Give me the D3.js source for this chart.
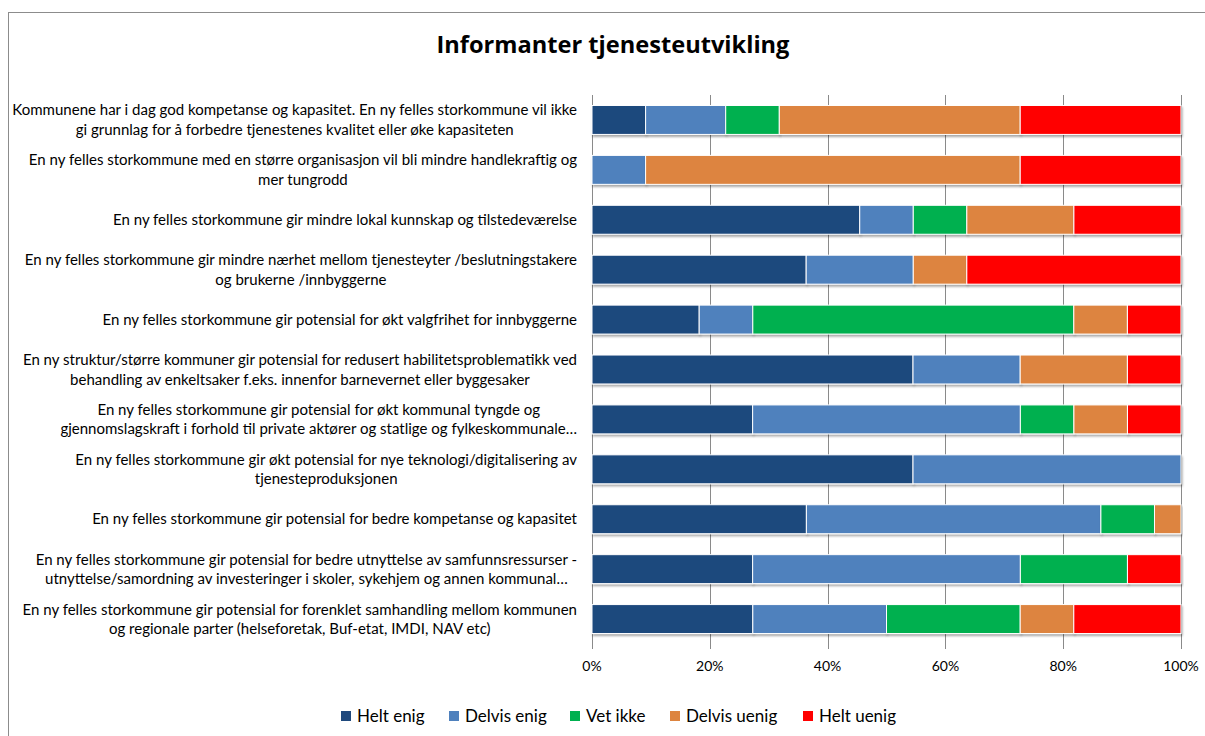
<!DOCTYPE html>
<html>
	<head>
		<meta charset="utf-8">
		<style type="text/css">
			body { margin: 0; background: #fff; }
			svg { display: block; }
			text { font-family: Lato, "Open Sans", sans-serif; fill: #000; }
		</style>
		<title>Informanter tjenesteutvikling</title>
	</head>
	<body>
		<script src="https://d3js.org/d3.v7.min.js"></script>
		<script>

/* data (percent of answers) */

var categories = [
	["Kommunene har i dag god kompetanse og kapasitet. En ny felles storkommune vil ikke", "gi grunnlag for å forbedre tjenestenes kvalitet eller øke kapasiteten"],
	["En ny felles storkommune med en større organisasjon vil bli mindre handlekraftig og", "mer tungrodd"],
	["En ny felles storkommune gir mindre lokal kunnskap og tilstedeværelse "],
	["En ny felles storkommune gir mindre nærhet mellom tjenesteyter /beslutningstakere", "og brukerne /innbyggerne"],
	["En ny felles storkommune gir potensial for økt valgfrihet for innbyggerne"],
	["En ny struktur/større kommuner gir potensial for redusert habilitetsproblematikk ved", "behandling av enkeltsaker f.eks. innenfor barnevernet eller byggesaker"],
	["En ny felles storkommune gir potensial for økt kommunal tyngde og", "gjennomslagskraft i forhold til private aktører og statlige og fylkeskommunale…"],
	["En ny felles storkommune gir økt potensial for nye teknologi/digitalisering av", "tjenesteproduksjonen"],
	["En ny felles storkommune gir potensial for bedre kompetanse og kapasitet"],
	["En ny felles storkommune gir potensial for bedre utnyttelse av samfunnsressurser -", "utnyttelse/samordning av investeringer i skoler, sykehjem og annen kommunal…"],
	["En ny felles storkommune gir potensial for forenklet samhandling mellom kommunen", "og regionale parter (helseforetak, Buf-etat, IMDI, NAV etc)"]
];

var seriesNames = ["Helt enig", "Delvis enig", "Vet ikke", "Delvis uenig", "Helt uenig"];
var seriesColors = ["#1F497D", "#4F81BD", "#00B050", "#DD843F", "#FF0000"];

var heltEnig    = [9.1, 0,    45.5, 36.4, 18.2, 54.5, 27.3, 54.5, 36.4, 27.3, 27.3];
var delvisEnig  = [13.6, 9.1, 9.1,  18.2, 9.1,  18.2, 45.5, 45.5, 50.0, 45.5, 22.7];
var vetIkke     = [9.1, 0,    9.1,  0,    54.5, 0,    9.1,  0,    9.1,  18.2, 22.7];
var delvisUenig = [40.9, 63.6, 18.2, 9.1, 9.1,  18.2, 9.1,  0,    4.5,  0,    9.1];
var heltUenig   = [27.3, 27.3, 18.2, 36.4, 9.1, 9.1,  9.1,  0,    0,    9.1,  18.2];

var xTicks = [0, 0.2, 0.4, 0.6, 0.8, 1];

var chartTitle = "Informanter tjenesteutvikling";

/* table for d3.stack */

var seriesValues = [heltEnig, delvisEnig, vetIkke, delvisUenig, heltUenig];
var table = categories.map(function(c, i) {
	var row = { idx: i };
	seriesNames.forEach(function(s, j) { row[s] = seriesValues[j][i]; });
	return row;
});

var stacked = d3.stack()
	.keys(seriesNames)
	.offset(d3.stackOffsetExpand)(table);

/* graph parameters */

var totalWidth = 1205;
var totalHeight = 736;
var plot = { left: 592, right: 1181, top: 95, bottom: 644 };

var scaleX = d3.scaleLinear()
	.domain([0, 1])
	.range([plot.left, plot.right]);

var scaleY = d3.scaleBand()
	.domain(d3.range(categories.length))
	.range([plot.top, plot.bottom])
	.paddingInner(0.42)
	.paddingOuter(0.21);

var svg = d3.select("body").append("svg")
	.attr("width", totalWidth)
	.attr("height", totalHeight);

var defs = svg.append("defs");
var shadow = defs.append("filter")
	.attr("id", "shadow")
	.attr("x", "-5%").attr("y", "-20%")
	.attr("width", "110%").attr("height", "160%");
shadow.append("feDropShadow")
	.attr("dx", 1).attr("dy", 2)
	.attr("stdDeviation", 1.2)
	.attr("flood-color", "#000")
	.attr("flood-opacity", 0.35);

/* outer frame */

svg.append("rect")
	.attr("x", 8.5)
	.attr("y", 12.5)
	.attr("width", 1200)
	.attr("height", 740)
	.style("fill", "#fff")
	.style("stroke", "#8c8c8c")
	.style("stroke-width", 1);

/* title */

var title = svg.append("text")
	.attr("x", 613)
	.attr("y", 53)
	.attr("text-anchor", "middle")
	.style("font-family", "'Open Sans', sans-serif")
	.style("font-weight", "bold")
	.style("font-size", "24px")
	.text(chartTitle);
fitWidth(title, 353, 24);

/* gridlines + ticks */

svg.append("g")
	.selectAll("line")
	.data(xTicks)
	.enter().append("line")
	.attr("x1", function(d) { return Math.round(scaleX(d)) + 0.5; })
	.attr("x2", function(d) { return Math.round(scaleX(d)) + 0.5; })
	.attr("y1", plot.top)
	.attr("y2", plot.bottom + 5)
	.style("stroke", "#8a8a8a")
	.style("stroke-width", 1);

svg.append("g")
	.selectAll("text")
	.data(xTicks)
	.enter().append("text")
	.attr("x", function(d) { return scaleX(d); })
	.attr("y", 671)
	.attr("text-anchor", "middle")
	.style("font-size", "14px")
	.text(d3.format(".0%"));

/* bars */

var layers = svg.append("g")
	.selectAll("g")
	.data(stacked)
	.enter().append("g")
	.style("fill", function(d, i) { return seriesColors[i]; });

layers.selectAll("rect")
	.data(function(d) { return d; })
	.enter().append("rect")
	.filter(function(d) { return d[1] - d[0] > 0; })
	.attr("x", function(d) { return scaleX(d[0]); })
	.attr("y", function(d) { return scaleY(d.data.idx); })
	.attr("width", function(d) { return scaleX(d[1]) - scaleX(d[0]); })
	.attr("height", scaleY.bandwidth())
	.attr("filter", "url(#shadow)")
	.style("stroke", "#fff")
	.style("stroke-width", 1);

/* category labels: block right-aligned, lines centred in the block */

var labelFont = 14;
var labelRight = 577;
var lineH = 19.5;

var probe = svg.append("text").style("font-size", labelFont + "px").text(categories[0][0]);
labelFont = labelFont * 565 / probe.node().getComputedTextLength();
probe.remove();

var labels = svg.append("g")
	.selectAll("text")
	.data(categories)
	.enter().append("text")
	.style("font-size", labelFont + "px")
	.attr("y", function(d, i) { return scaleY(i) + scaleY.bandwidth() / 2; });

labels.each(function(lines, i) {
	var t = d3.select(this);
	var spans = t.selectAll("tspan")
		.data(lines)
		.enter().append("tspan")
		.text(function(d) { return d; });
	var w = 0;
	spans.each(function() { w = Math.max(w, this.getComputedTextLength()); });
	var cx = labelRight - w / 2;
	var cy = scaleY(i) + scaleY.bandwidth() / 2;
	spans
		.attr("x", cx)
		.attr("text-anchor", "middle")
		.attr("y", function(d, k) { return cy + (k - (lines.length - 1) / 2) * lineH + labelFont * 0.35; });
});

/* legend */

var legendX = [341, 449, 570, 670, 803];

var legend = svg.append("g")
	.selectAll("g")
	.data(seriesNames)
	.enter().append("g")
	.attr("transform", function(d, i) { return "translate(" + legendX[i] + ",716)"; });

legend.append("rect")
	.attr("x", 0)
	.attr("y", -5)
	.attr("width", 10)
	.attr("height", 10)
	.style("fill", function(d, i) { return seriesColors[i]; });

legend.append("text")
	.attr("x", 16)
	.attr("y", 6)
	.style("font-size", "17px")
	.text(function(d) { return d; });

function fitWidth(sel, target, size) {
	var w = sel.node().getComputedTextLength();
	sel.style("font-size", (size * target / w) + "px");
}

		</script>
	</body>
</html>
